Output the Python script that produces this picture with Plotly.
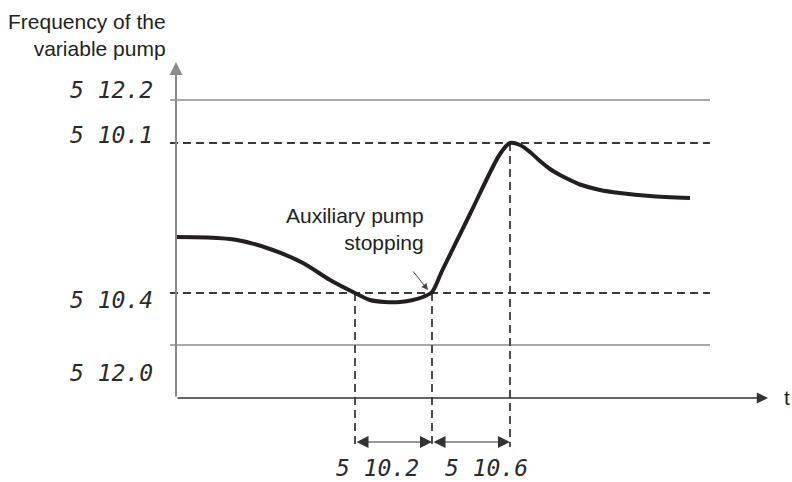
import plotly.graph_objects as go

# --- data (t: time units, f: frequency units) ---
t_curve = [0.0, 3.0, 6.1, 9.4, 12.7, 15.4, 17.9, 19.4, 20.9, 22.4, 23.7, 24.7, 25.6,
           26.6, 29.4, 32.4, 33.4, 34.4, 35.4, 36.4, 37.4, 38.4, 39.4, 40.4, 42.4,
           44.4, 47.4, 51.4]
f_curve = [16.1, 16.05, 15.8, 14.9, 13.5, 11.8, 10.5, 9.8, 9.6, 9.6, 9.8, 10.1, 10.6,
           12.7, 18.4, 24.4, 25.5, 25.3, 24.6, 23.7, 22.9, 22.3, 21.8, 21.35, 20.8,
           20.5, 20.2, 20.0]

level_vals = [29.8, 25.5, 10.5, 5.3]
level_labels = ["5 12.2", "5 10.1", "5 10.4", "5 12.0"]
level_label_f = [30.8, 26.3, 9.8, 2.5]
level_dashed = [False, True, True, False]

event_t = [17.9, 25.6, 33.4]
event_f = [10.5, 10.5, 25.5]
interval_labels = ["5 10.2", "5 10.6"]
interval_label_t = [20.15, 31.0]

t_end = 53.4
t_axis_end = 59.2
f_axis_end = 33.6
f_bottom = -4.9
f_arrows = -4.4

seg_font = dict(family="DejaVu Sans Mono", size=23, color="#2b2b2b", style="italic")
txt_font = dict(family="Arial, Liberation Sans", size=21, color="#231f20")

fig = go.Figure()

# level lines
for v, dashed in zip(level_vals, level_dashed):
    fig.add_trace(go.Scatter(
        x=[-0.6, t_end], y=[v, v], mode="lines",
        line=dict(color="#3a3a3a" if dashed else "#555555",
                  width=1.8 if dashed else 1.1,
                  dash="8px,5px" if dashed else "solid"),
        hoverinfo="skip", showlegend=False))

# vertical dashed markers
for t, f in zip(event_t, event_f):
    fig.add_trace(go.Scatter(
        x=[t, t], y=[f, f_bottom], mode="lines",
        line=dict(color="#3a3a3a", width=1.8, dash="8px,5px"),
        hoverinfo="skip", showlegend=False))

# frequency curve
fig.add_trace(go.Scatter(
    x=t_curve, y=f_curve, mode="lines",
    line=dict(color="#231f20", width=4, shape="spline", smoothing=0.8),
    hoverinfo="skip", showlegend=False))

# axes with arrows
fig.add_annotation(x=0, y=f_axis_end, ax=0, ay=0, xref="x", yref="y", axref="x", ayref="y",
                   text="", showarrow=True, arrowhead=2, arrowsize=1.3, arrowwidth=2,
                   arrowcolor="#8a8a8a")
fig.add_annotation(x=t_axis_end, y=0, ax=0, ay=0, xref="x", yref="y", axref="x", ayref="y",
                   text="", showarrow=True, arrowhead=2, arrowsize=1.6, arrowwidth=1.4,
                   arrowcolor="#333333")

# interval arrows
for a, b in zip(event_t[:-1], event_t[1:]):
    fig.add_annotation(x=b, y=f_arrows, ax=a, ay=f_arrows, xref="x", yref="y",
                       axref="x", ayref="y", text="", showarrow=True,
                       arrowhead=2, arrowsize=2, arrowwidth=1.2,
                       arrowside="end+start", arrowcolor="#333333")

# pointer for auxiliary pump stopping
fig.add_annotation(x=25.2, y=10.8, ax=23.6, ay=12.8, xref="x", yref="y",
                   axref="x", ayref="y", text="", showarrow=True,
                   arrowhead=2, arrowsize=1.3, arrowwidth=1, arrowcolor="#444444")

# texts
for lab, fy in zip(level_labels, level_label_f):
    fig.add_annotation(x=-2.1, y=fy, text=lab, showarrow=False, xanchor="right",
                       yanchor="middle", font=seg_font)
for lab, tx in zip(interval_labels, interval_label_t):
    fig.add_annotation(x=tx, y=-7.0, text=lab, showarrow=False, xanchor="center",
                       yanchor="middle", font=seg_font)

fig.add_annotation(x=-0.8, y=36.3, text="Frequency of the<br>variable pump", showarrow=False,
                   xanchor="right", yanchor="middle", align="right", font=txt_font)
fig.add_annotation(x=25.0, y=16.9, text="Auxiliary pump<br>stopping", showarrow=False,
                   xanchor="right", yanchor="middle", align="right", font=txt_font)
fig.add_annotation(x=61.1, y=0.1, text="t", showarrow=False, xanchor="center",
                   yanchor="middle", font=txt_font)

fig.update_layout(
    width=792, height=482,
    margin=dict(l=0, r=0, t=0, b=0),
    paper_bgcolor="white", plot_bgcolor="white",
    xaxis=dict(visible=False, range=[-17.6, 61.6], fixedrange=True),
    yaxis=dict(visible=False, range=[-8.4, 39.8], fixedrange=True),
)

fig.write_html("out.html", config={"displayModeBar": False},
               post_script="document.body.style.margin='0';")
